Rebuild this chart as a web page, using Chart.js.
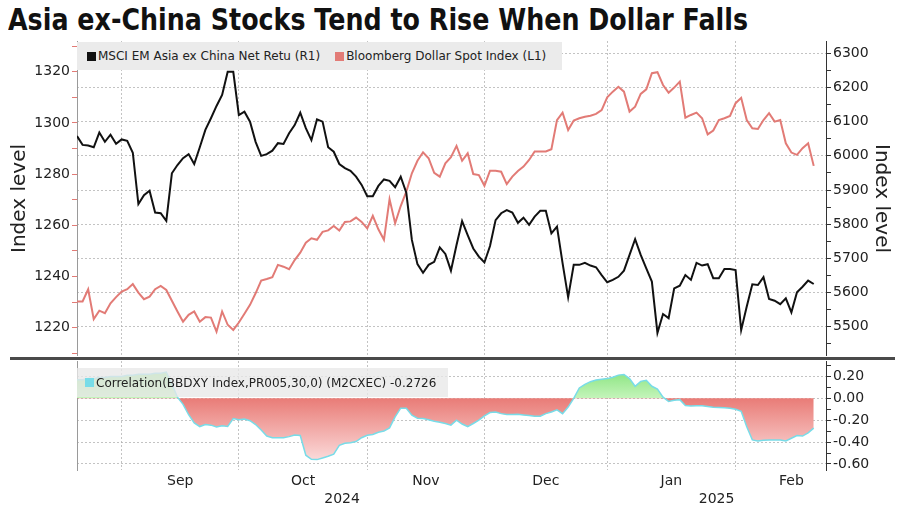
<!DOCTYPE html>
<html><head><meta charset="utf-8">
<title>Asia ex-China Stocks Tend to Rise When Dollar Falls</title>
<script src="https://cdn.jsdelivr.net/npm/chart.js@4.4.1/dist/chart.umd.min.js"></script>
<style>
html,body{margin:0;padding:0;background:#fff;}
#wrap{position:relative;width:900px;height:510px;overflow:hidden;background:#fff;}
#title{position:absolute;left:8px;top:0px;font-family:"DejaVu Sans",sans-serif;font-weight:bold;font-size:30px;line-height:40px;color:#111;white-space:nowrap;transform-origin:0 0;}
#c1{position:absolute;left:0;top:41px;}
#c2{position:absolute;left:0;top:361px;}
.sep{position:absolute;left:10px;top:357px;width:885px;height:3px;background:#4a4a4a;}
.leg{position:absolute;font-family:"DejaVu Sans",sans-serif;font-size:12px;color:#222;white-space:nowrap;display:flex;align-items:center;box-sizing:border-box;}
.sq{display:inline-block;width:9px;height:9px;margin-right:2px;}
#leg1{left:77px;top:42px;width:485px;height:28px;padding-left:10px;background:#ebebeb;}
#leg2{left:77px;top:368px;width:371px;height:29px;padding-left:8px;background:rgba(232,232,232,0.78);}
</style>
</head><body>
<div id="wrap">
  <div id="title">Asia ex-China Stocks Tend to Rise When Dollar Falls</div>
  <canvas id="c1" width="900" height="315"></canvas>
  <canvas id="c2" width="900" height="149"></canvas>
  <div class="sep"></div>
  <div class="leg" id="leg1"></div>
  <div class="leg" id="leg2"></div>
</div>
<script>
// ---------- data (weekday observations) ----------
const dates = [
'2024-08-21','2024-08-22','2024-08-23','2024-08-26','2024-08-27','2024-08-28','2024-08-29','2024-08-30',
'2024-09-02','2024-09-03','2024-09-04','2024-09-05','2024-09-06','2024-09-09','2024-09-10','2024-09-11','2024-09-12','2024-09-13','2024-09-16','2024-09-17','2024-09-18','2024-09-19','2024-09-20','2024-09-23','2024-09-24','2024-09-25','2024-09-26','2024-09-27','2024-09-30',
'2024-10-01','2024-10-02','2024-10-03','2024-10-04','2024-10-07','2024-10-08','2024-10-09','2024-10-10','2024-10-11','2024-10-14','2024-10-15','2024-10-16','2024-10-17','2024-10-18','2024-10-21','2024-10-22','2024-10-23','2024-10-24','2024-10-25','2024-10-28','2024-10-29','2024-10-30','2024-10-31',
'2024-11-01','2024-11-04','2024-11-05','2024-11-06','2024-11-07','2024-11-08','2024-11-11','2024-11-12','2024-11-13','2024-11-14','2024-11-15','2024-11-18','2024-11-19','2024-11-20','2024-11-21','2024-11-22','2024-11-25','2024-11-26','2024-11-27','2024-11-28','2024-11-29',
'2024-12-02','2024-12-03','2024-12-04','2024-12-05','2024-12-06','2024-12-09','2024-12-10','2024-12-11','2024-12-12','2024-12-13','2024-12-16','2024-12-17','2024-12-18','2024-12-19','2024-12-20','2024-12-23','2024-12-24','2024-12-25','2024-12-26','2024-12-27','2024-12-30','2024-12-31',
'2025-01-01','2025-01-02','2025-01-03','2025-01-06','2025-01-07','2025-01-08','2025-01-09','2025-01-10','2025-01-13','2025-01-14','2025-01-15','2025-01-16','2025-01-17','2025-01-20','2025-01-21','2025-01-22','2025-01-23','2025-01-24','2025-01-27','2025-01-28','2025-01-29','2025-01-30','2025-01-31',
'2025-02-03','2025-02-04','2025-02-05','2025-02-06','2025-02-07','2025-02-10','2025-02-11','2025-02-12','2025-02-13','2025-02-14','2025-02-17','2025-02-18','2025-02-19','2025-02-20','2025-02-21'
];

// MSCI EM Asia ex China Net Return (right axis)
const msci = [
6058,6032,6030,6025,6068,6041,6062,6035,6048,6044,
6009,5859,5885,5898,5834,5832,5810,5949,5973,5993,
6005,5976,6025,6076,6110,6146,6178,6246,6246,6119,
6129,6100,6041,6000,6005,6015,6037,6035,6066,6090,
6126,6081,6046,6107,6100,6025,6012,5976,5964,5956,
5939,5915,5882,5882,5912,5931,5927,5908,5939,5892,
5754,5683,5658,5681,5690,5732,5713,5664,5739,5809,
5768,5729,5705,5688,5736,5812,5832,5841,5834,5804,
5819,5798,5822,5839,5839,5773,5793,5686,5586,5681,
5681,5687,5679,5674,5651,5630,5637,5646,5664,5710,
5756,5710,5671,5632,5482,5537,5525,5612,5620,5651,
5637,5687,5679,5683,5642,5642,5669,5669,5666,5490,
5559,5624,5622,5645,5581,5576,5566,5583,5542,5601,
5617,5635,5625
];

// Bloomberg Dollar Spot Index (left axis)
const bbdxy = [
1230.2,1230.2,1235.0,1223.3,1226.6,1225.6,1229.5,1231.9,1234.1,1235.0,
1237.0,1233.7,1231.1,1232.1,1235.0,1236.3,1234.7,1230.5,1226.3,1222.3,
1225.0,1226.3,1222.3,1224.1,1223.9,1218.4,1226.3,1221.1,1219.1,1222.0,
1225.4,1228.9,1233.4,1238.4,1239.0,1239.7,1244.5,1243.8,1242.8,1246.4,
1249.3,1253.2,1254.9,1254.3,1257.4,1258.0,1259.7,1257.9,1261.3,1261.5,
1263.0,1261.3,1258.8,1263.7,1258.4,1254.3,1270.2,1260.8,1267.5,1273.1,
1280.3,1285.2,1288.5,1286.2,1280.5,1279.0,1284.2,1286.6,1291.0,1285.2,
1288.1,1280.0,1279.6,1275.4,1281.3,1281.3,1280.9,1276.1,1279.0,1281.2,
1282.9,1285.5,1288.8,1288.8,1288.8,1289.7,1301.1,1304.0,1297.2,1300.9,
1301.8,1302.4,1302.8,1303.5,1305.0,1310.0,1312.2,1314.1,1312.2,1304.4,
1306.3,1311.3,1313.1,1319.4,1319.8,1314.8,1311.8,1313.8,1316.1,1302.0,
1303.1,1304.0,1301.8,1295.5,1297.0,1301.1,1301.8,1302.7,1307.7,1309.8,
1301.1,1297.9,1297.6,1301.1,1303.8,1300.5,1301.1,1292.0,1288.4,1287.5,
1290.1,1292.0,1283.2
];

// 30-day correlation
const corr = [
0.17,0.17,0.18,0.18,0.19,0.19,0.20,0.20,0.20,0.21,
0.21,0.22,0.22,0.22,0.23,0.23,0.24,0.13,0.01,-0.055,
-0.15,-0.225,-0.258,-0.24,-0.245,-0.262,-0.25,-0.258,-0.185,-0.196,
-0.19,-0.205,-0.24,-0.29,-0.345,-0.36,-0.36,-0.36,-0.35,-0.335,
-0.34,-0.52,-0.557,-0.56,-0.545,-0.53,-0.51,-0.43,-0.41,-0.405,
-0.395,-0.36,-0.337,-0.33,-0.31,-0.298,-0.27,-0.17,-0.09,-0.09,
-0.155,-0.182,-0.185,-0.195,-0.21,-0.218,-0.23,-0.245,-0.2,-0.235,
-0.258,-0.23,-0.2,-0.16,-0.13,-0.125,-0.14,-0.148,-0.148,-0.146,
-0.152,-0.157,-0.163,-0.163,-0.14,-0.125,-0.106,-0.14,-0.08,0.0,
0.095,0.127,0.152,0.168,0.175,0.18,0.193,0.212,0.218,0.18,
0.11,0.155,0.165,0.11,0.085,0.01,-0.028,-0.018,-0.012,-0.066,
-0.07,-0.068,-0.067,-0.075,-0.082,-0.084,-0.086,-0.09,-0.1,-0.118,
-0.26,-0.38,-0.39,-0.383,-0.382,-0.381,-0.38,-0.39,-0.365,-0.34,
-0.345,-0.315,-0.2726
];

const seriesNames = ['MSCI EM Asia ex China Net Retu (R1)', 'Bloomberg Dollar Spot Index (L1)',
                     'Correlation(BBDXY Index,PR005,30,0) (M2CXEC) -0.2726'];
const monthNames = ['Jan','Feb','Mar','Apr','May','Jun','Jul','Aug','Sep','Oct','Nov','Dec'];
const leftTicks = [1220,1240,1260,1280,1300,1320];
const rightTicks = [5500,5600,5700,5800,5900,6000,6100,6200,6300];
const corrTicks = [0.2,0,-0.2,-0.4,-0.6];
const axisTitle = 'Index level';

// ---------- title fit ----------
(function(){
  const t = document.getElementById('title');
  const w = t.getBoundingClientRect().width;
  t.style.transform = 'scaleX(' + (740 / w) + ')';
})();

// ---------- derived axis helpers ----------
const X_MAX = dates.length - 1 + 2.2;
function weekdaysInMonth(y, m) {
  let n = 0; const d = new Date(Date.UTC(y, m - 1, 1));
  while (d.getUTCMonth() === m - 1) { const w = d.getUTCDay(); if (w > 0 && w < 6) n++; d.setUTCDate(d.getUTCDate() + 1); }
  return n;
}
const monthStarts = [];
for (let i = 1; i < dates.length; i++) if (dates[i].slice(5,7) !== dates[i-1].slice(5,7)) monthStarts.push(i);
const monthLabelTicks = monthStarts.map((s, k) => {
  const y = +dates[s].slice(0,4), m = +dates[s].slice(5,7);
  const end = k + 1 < monthStarts.length ? monthStarts[k+1] : s + weekdaysInMonth(y, m);
  return {value: (s + end) / 2, text: monthNames[m - 1]};
});
const yearStarts = [0];
for (let i = 1; i < dates.length; i++) if (dates[i].slice(0,4) !== dates[i-1].slice(0,4)) yearStarts.push(i);
const yearLabelTicks = yearStarts.map((s, k) => {
  const end = k + 1 < yearStarts.length ? yearStarts[k+1] : X_MAX;
  return {value: (s + end) / 2, text: dates[s].slice(0,4)};
});
function withMinor(major, lo, hi) {
  const sorted = major.slice().sort((a,b)=>a-b);
  const step = sorted[1] - sorted[0];
  const out = [{value: sorted[0] - step/2, lbl: false}];
  sorted.forEach(v => { out.push({value: v, lbl: true}); out.push({value: v + step/2, lbl: false}); });
  return out.filter(t => t.value >= lo && t.value <= hi);
}
function fixV(w) { return s => { s.width = w; s.paddingTop = 0; s.paddingBottom = 0; }; }
function fixH(h) { return s => { s.height = h; s.paddingLeft = 0; s.paddingRight = 0; }; }

// ---------- legends (HTML) ----------
function legItem(color, text, gap) {
  return '<span class="sq" style="background:' + color + ';margin-left:' + gap + 'px"></span><span>' + text + '</span>';
}
document.getElementById('leg1').innerHTML = legItem('#111', seriesNames[0], 0) + legItem('#e27b76', seriesNames[1], 15);
document.getElementById('leg2').innerHTML = legItem('rgb(120,220,232)', seriesNames[2], 0);

// ---------- styles ----------
const tickFont = {family: 'DejaVu Sans', size: 14};
const gridGray = 'rgba(175,175,175,0.75)';
const clear = 'rgba(0,0,0,0)';
const RED = '#e27b76';

// ---------- top chart ----------
const L_MIN = 1208.9, L_MAX = 1332, R_MIN = 5414.3, R_MAX = 6336;
new Chart(document.getElementById('c1'), {
  type: 'line',
  data: {
    datasets: [
      {label: seriesNames[0], data: msci.map((v,i)=>({x:i,y:v})), yAxisID: 'yR', borderColor: '#111', borderWidth: 2, pointRadius: 0, tension: 0},
      {label: seriesNames[1], data: bbdxy.map((v,i)=>({x:i,y:v})), yAxisID: 'yL', borderColor: RED, borderWidth: 2, pointRadius: 0, tension: 0}
    ]
  },
  options: {
    responsive: false, animation: false, events: [],
    layout: {padding: 0, autoPadding: false},
    plugins: {legend: {display: false}, tooltip: {enabled: false}},
    scales: {
      x: {type: 'linear', min: 0, max: X_MAX,
          afterBuildTicks: s => { s.ticks = monthStarts.map(v => ({value: v})); },
          ticks: {display: false}, grid: {color: gridGray, drawTicks: false},
          border: {display: false, dash: [2,2]}, afterFit: fixH(0)},
      yL: {position: 'left', min: L_MIN, max: L_MAX,
          afterBuildTicks: s => { s.ticks = withMinor(leftTicks, L_MIN, L_MAX); },
          ticks: {font: tickFont, color: '#222', padding: 2, autoSkip: false,
                  callback: (v, i, t) => t[i].lbl ? String(v) : ''},
          grid: {drawOnChartArea: false, tickLength: 5, tickColor: RED},
          border: {color: '#9a9a9a'},
          title: {display: true, text: axisTitle, color: '#222', font: {family: 'DejaVu Sans', size: 20}, padding: {top: 8, bottom: 0}},
          afterFit: fixV(77)},
      yR: {position: 'right', min: R_MIN, max: R_MAX,
          afterBuildTicks: s => { s.ticks = withMinor(rightTicks, R_MIN, R_MAX); },
          ticks: {font: tickFont, color: '#222', padding: 2, autoSkip: false,
                  callback: (v, i, t) => t[i].lbl ? String(v) : ''},
          grid: {color: c => (c.tick && c.tick.lbl) ? gridGray : clear, tickColor: '#333', tickLength: 5},
          border: {color: '#333', dash: [2,2]},
          title: {display: true, text: axisTitle, color: '#222', font: {family: 'DejaVu Sans', size: 20}, padding: {top: 7, bottom: 0}},
          afterFit: fixV(74)}
    }
  }
});

// ---------- bottom chart ----------
function corrFill(c) {
  const chart = c.chart, area = chart.chartArea;
  if (!area || !chart.scales.yC) return clear;
  const y = chart.scales.yC;
  const top = y.getPixelForValue(0.25), zero = y.getPixelForValue(0), bot = y.getPixelForValue(-0.6);
  const g = chart.ctx.createLinearGradient(0, top, 0, bot);
  const f = (zero - top) / (bot - top);
  g.addColorStop(0, 'rgb(138,228,128)');
  g.addColorStop(Math.max(0, f - 0.002), 'rgb(196,244,186)');
  g.addColorStop(f, 'rgb(233,124,119)');
  g.addColorStop(1, 'rgb(252,224,224)');
  return g;
}
const C_MIN = -0.655, C_MAX = 0.341;
new Chart(document.getElementById('c2'), {
  type: 'line',
  data: {
    datasets: [
      {label: seriesNames[2], data: corr.map((v,i)=>({x:i,y:v})), yAxisID: 'yC', xAxisID: 'x',
       borderColor: 'rgb(120,220,232)', borderWidth: 1.5, pointRadius: 0, tension: 0,
       fill: {target: {value: 0}}, backgroundColor: corrFill}
    ]
  },
  options: {
    responsive: false, animation: false, events: [],
    layout: {padding: 0, autoPadding: false},
    plugins: {legend: {display: false}, tooltip: {enabled: false}},
    scales: {
      x: {type: 'linear', min: 0, max: X_MAX, weight: 0,
          afterBuildTicks: s => { s.ticks = monthStarts.map(v => ({value: v})); },
          ticks: {display: false}, grid: {color: gridGray, drawTicks: false},
          border: {display: false, dash: [2,2]}, afterFit: fixH(0)},
      xm: {type: 'linear', position: 'bottom', min: 0, max: X_MAX, weight: 1,
          afterBuildTicks: s => { s.ticks = monthLabelTicks.map(t => ({value: t.value})); },
          ticks: {font: tickFont, color: '#222', padding: 3, autoSkip: false, maxRotation: 0,
                  callback: (v, i) => monthLabelTicks[i].text},
          grid: {display: false, drawTicks: false}, border: {display: false},
          afterFit: fixH(20)},
      xy: {type: 'linear', position: 'bottom', min: 0, max: X_MAX, weight: 2,
          afterBuildTicks: s => { s.ticks = yearLabelTicks.map(t => ({value: t.value})); },
          ticks: {font: tickFont, color: '#222', padding: 1, autoSkip: false, maxRotation: 0,
                  callback: (v, i) => yearLabelTicks[i].text},
          grid: {display: false, drawTicks: false}, border: {display: false},
          afterFit: fixH(20)},
      yl: {position: 'left', min: 0, max: 1,
          ticks: {display: false}, grid: {display: false, drawTicks: false},
          border: {color: '#9a9a9a'}, afterFit: fixV(77)},
      yC: {position: 'right', min: C_MIN, max: C_MAX,
          afterBuildTicks: s => { s.ticks = withMinor(corrTicks, C_MIN, C_MAX); },
          ticks: {font: tickFont, color: '#222', padding: 2, autoSkip: false,
                  callback: (v, i, t) => t[i].lbl ? v.toFixed(2) : ''},
          grid: {color: c => (c.tick && c.tick.lbl) ? gridGray : clear, tickColor: '#333', tickLength: 5},
          border: {color: '#333', dash: [2,2]},
          afterFit: fixV(74)}
    }
  }
});
</script>
</body></html>
